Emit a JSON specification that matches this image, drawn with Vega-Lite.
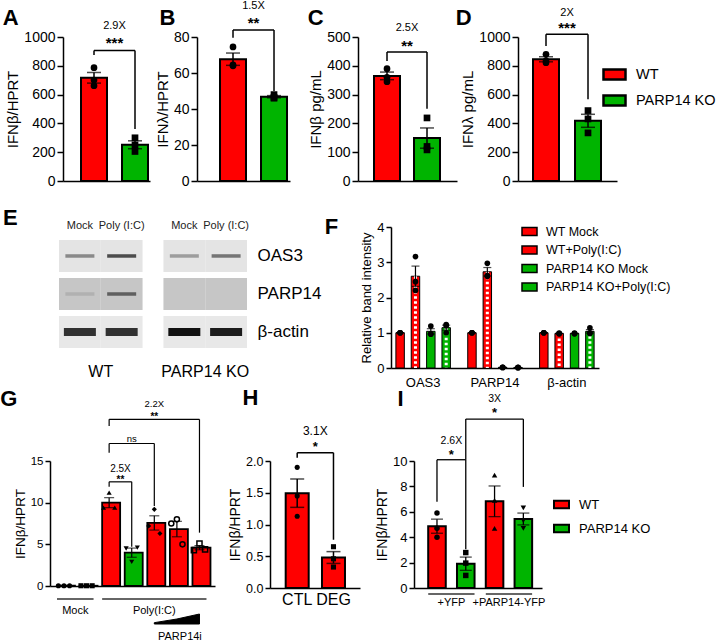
{
"$schema": "https://vega.github.io/schema/vega-lite/v6.json",
"background": "white",
"padding": 0,
"bounds": "flush",
"spacing": 0,
"resolve": {"scale": {"fill": "independent", "shape": "independent", "xOffset": "independent", "opacity": "independent", "color": "independent"}, "legend": {"fill": "independent", "shape": "independent"}},
"config": {
  "view": {"stroke": null},
  "font": "Liberation Sans",
  "axis": {"domainColor": "#000", "domainWidth": 1.5, "tickColor": "#000", "tickWidth": 1.5, "tickSize": 6, "labelColor": "#000", "titleColor": "#000", "labelFont": "Liberation Sans", "titleFont": "Liberation Sans", "titleFontWeight": "normal", "grid": false, "labelFontSize": 14, "titleFontSize": 15, "titlePadding": 3, "labelOverlap": false},
  "legend": {"labelFont": "Liberation Sans", "labelColor": "#000"},
  "title": {"font": "Liberation Sans", "fontSize": 22, "fontWeight": "bold", "color": "#000", "anchor": "start", "frame": "bounds", "offset": 0, "baseline": "bottom"},
  "text": {"font": "Liberation Sans", "color": "#000"}
},
"datasets": {
  "A": [{"g":"WT","v":787},{"g":"WT","v":701},{"g":"WT","v":662},{"g":"PARP14 KO","v":300},{"g":"PARP14 KO","v":250},{"g":"PARP14 KO","v":205}],
  "B": [{"g":"WT","v":74.5},{"g":"WT","v":64.5},{"g":"WT","v":64},{"g":"PARP14 KO","v":48},{"g":"PARP14 KO","v":46},{"g":"PARP14 KO","v":46.5}],
  "C": [{"g":"WT","v":390},{"g":"WT","v":360},{"g":"WT","v":345},{"g":"PARP14 KO","v":219},{"g":"PARP14 KO","v":108},{"g":"PARP14 KO","v":120}],
  "D": [{"g":"WT","v":880},{"g":"WT","v":822},{"g":"WT","v":834},{"g":"PARP14 KO","v":489},{"g":"PARP14 KO","v":431},{"g":"PARP14 KO","v":334}],
  "annA": [{"a":"WT","b":"PARP14 KO","top":907,"la":875,"lb":361,"fold":"2.9X","fy":1076,"stars":"***","sy":955}],
  "annB": [{"a":"WT","b":"PARP14 KO","top":83.9,"la":79.6,"lb":50,"fold":"1.5X","fy":97.2,"stars":"**","sy":87.8}],
  "annC": [{"a":"WT","b":"PARP14 KO","top":448,"la":417,"lb":251,"fold":"2.5X","fy":530,"stars":"**","sy":470}],
  "annD": [{"a":"WT","b":"PARP14 KO","top":1019,"la":938,"lb":568,"fold":"2X","fy":1165,"stars":"***","sy":1060}],
  "E": [
    {"g":"WT","t":"Mock","p":"OAS3","i":0.45},{"g":"WT","t":"Poly (I:C)","p":"OAS3","i":0.75},{"g":"PARP14 KO","t":"Mock","p":"OAS3","i":0.35},{"g":"PARP14 KO","t":"Poly (I:C)","p":"OAS3","i":0.55},
    {"g":"WT","t":"Mock","p":"PARP14","i":0.12},{"g":"WT","t":"Poly (I:C)","p":"PARP14","i":0.6},{"g":"PARP14 KO","t":"Mock","p":"PARP14","i":0},{"g":"PARP14 KO","t":"Poly (I:C)","p":"PARP14","i":0},
    {"g":"WT","t":"Mock","p":"β-actin","i":0.85},{"g":"WT","t":"Poly (I:C)","p":"β-actin","i":0.85},{"g":"PARP14 KO","t":"Mock","p":"β-actin","i":1},{"g":"PARP14 KO","t":"Poly (I:C)","p":"β-actin","i":0.95}
  ],
  "F": [
    {"t":"OAS3","c":"WT Mock","v":1},{"t":"OAS3","c":"WT Mock","v":1},{"t":"OAS3","c":"WT Mock","v":1},
    {"t":"OAS3","c":"WT+Poly(I:C)","v":3.16},{"t":"OAS3","c":"WT+Poly(I:C)","v":2.45},{"t":"OAS3","c":"WT+Poly(I:C)","v":2.2},
    {"t":"OAS3","c":"PARP14 KO Mock","v":1.19},{"t":"OAS3","c":"PARP14 KO Mock","v":0.97},{"t":"OAS3","c":"PARP14 KO Mock","v":0.96},
    {"t":"OAS3","c":"PARP14 KO+Poly(I:C)","v":1.23},{"t":"OAS3","c":"PARP14 KO+Poly(I:C)","v":1.2},{"t":"OAS3","c":"PARP14 KO+Poly(I:C)","v":1.0},
    {"t":"PARP14","c":"WT Mock","v":1},{"t":"PARP14","c":"WT Mock","v":1},{"t":"PARP14","c":"WT Mock","v":1},
    {"t":"PARP14","c":"WT+Poly(I:C)","v":2.97},{"t":"PARP14","c":"WT+Poly(I:C)","v":2.62},{"t":"PARP14","c":"WT+Poly(I:C)","v":2.6},
    {"t":"PARP14","c":"PARP14 KO Mock","v":0.02},{"t":"PARP14","c":"PARP14 KO Mock","v":0.01},{"t":"PARP14","c":"PARP14 KO Mock","v":0.02},
    {"t":"PARP14","c":"PARP14 KO+Poly(I:C)","v":0.01},{"t":"PARP14","c":"PARP14 KO+Poly(I:C)","v":0.02},{"t":"PARP14","c":"PARP14 KO+Poly(I:C)","v":0.01},
    {"t":"β-actin","c":"WT Mock","v":1},{"t":"β-actin","c":"WT Mock","v":1},{"t":"β-actin","c":"WT Mock","v":1},
    {"t":"β-actin","c":"WT+Poly(I:C)","v":0.99},{"t":"β-actin","c":"WT+Poly(I:C)","v":0.97},{"t":"β-actin","c":"WT+Poly(I:C)","v":0.98},
    {"t":"β-actin","c":"PARP14 KO Mock","v":0.98},{"t":"β-actin","c":"PARP14 KO Mock","v":0.97},{"t":"β-actin","c":"PARP14 KO Mock","v":0.99},
    {"t":"β-actin","c":"PARP14 KO+Poly(I:C)","v":1.14},{"t":"β-actin","c":"PARP14 KO+Poly(I:C)","v":1.0},{"t":"β-actin","c":"PARP14 KO+Poly(I:C)","v":0.98}
  ],
  "G": [
    {"cat":"Mock WT","rep":1,"v":0.03},{"cat":"Mock WT","rep":2,"v":0.03},{"cat":"Mock WT","rep":3,"v":0.03},
    {"cat":"Mock KO","rep":1,"v":0.03},{"cat":"Mock KO","rep":2,"v":0.03},{"cat":"Mock KO","rep":3,"v":0.03},
    {"cat":"Poly WT","rep":1,"v":9.4},{"cat":"Poly WT","rep":2,"v":11.2},{"cat":"Poly WT","rep":3,"v":9.4},
    {"cat":"Poly KO","rep":1,"v":4.5},{"cat":"Poly KO","rep":2,"v":2.9},{"cat":"Poly KO","rep":3,"v":4.6},
    {"cat":"PARP14i low","rep":1,"v":7.2},{"cat":"PARP14i low","rep":2,"v":9.2},{"cat":"PARP14i low","rep":3,"v":6.3},
    {"cat":"PARP14i mid","rep":1,"v":7.5},{"cat":"PARP14i mid","rep":2,"v":8.0},{"cat":"PARP14i mid","rep":3,"v":5.0},
    {"cat":"PARP14i high","rep":1,"v":4.3},{"cat":"PARP14i high","rep":2,"v":5.1},{"cat":"PARP14i high","rep":3,"v":4.4}
  ],
  "Gb": [
    {"a":"Poly WT","b":"Poly KO","top":12.5,"la":11.9,"lb":4.7,"fold":"2.5X","fy":14.1,"stars":"**","sy":12.7,"m":"Poly WT"},
    {"a":"Poly WT","b":"PARP14i low","top":17.1,"la":16.0,"lb":9.6,"fold":"ns","fy":17.65,"stars":"","sy":17.65,"m":"Poly KO"},
    {"a":"Poly WT","b":"PARP14i high","top":20.0,"la":19.2,"lb":6.4,"fold":"2.2X","fy":21.9,"stars":"**","sy":20.3,"m":"PARP14i low"}
  ],
  "Gu": [{"a":"Mock WT","b":"Mock KO","lx":"Mock WT","lab":"Mock"},{"a":"Poly WT","b":"PARP14i high","lx":"PARP14i low","lab":"Poly(I:C)"}],
  "Gt": [{"cat":"PARP14i low","lo":-4.56,"hi":-4.4},{"cat":"PARP14i mid","lo":-4.56,"hi":-3.96},{"cat":"PARP14i high","lo":-4.56,"hi":-3.36}],
  "H": [{"cat":"CTL","v":1.9},{"cat":"CTL","v":1.45},{"cat":"CTL","v":1.13},{"cat":"DEG","v":0.65},{"cat":"DEG","v":0.46},{"cat":"DEG","v":0.33}],
  "Hb": [{"a":"CTL","b":"DEG","top":2.13,"la":2.05,"lb":0.76,"fold":"3.1X","fy":2.47,"stars":"*","sy":2.22}],
  "I": [
    {"bar":"WT +YFP","g":"WT","v":5.9},{"bar":"WT +YFP","g":"WT","v":4.7},{"bar":"WT +YFP","g":"WT","v":4.0},
    {"bar":"KO +YFP","g":"PARP14 KO","v":2.79},{"bar":"KO +YFP","g":"PARP14 KO","v":1.96},{"bar":"KO +YFP","g":"PARP14 KO","v":0.99},
    {"bar":"WT +PARP14-YFP","g":"WT","v":8.88},{"bar":"WT +PARP14-YFP","g":"WT","v":6.9},{"bar":"WT +PARP14-YFP","g":"WT","v":4.7},
    {"bar":"KO +PARP14-YFP","g":"PARP14 KO","v":6.3},{"bar":"KO +PARP14-YFP","g":"PARP14 KO","v":5.3},{"bar":"KO +PARP14-YFP","g":"PARP14 KO","v":4.7}
  ],
  "Ib": [
    {"a":"WT +YFP","b":"KO +YFP","top":10.1,"la":6.8,"lb":3.05,"fold":"2.6X","fy":11.6,"stars":"*","sy":10.5,"m":"WT +YFP"},
    {"a":"KO +YFP","b":"KO +PARP14-YFP","top":13.3,"la":10.1,"lb":7.96,"fold":"3X","fy":14.9,"stars":"*","sy":13.8,"m":"WT +PARP14-YFP"}
  ],
  "Iu": [{"a":"WT +YFP","b":"KO +YFP","lab":"+YFP"},{"a":"WT +PARP14-YFP","b":"KO +PARP14-YFP","lab":"+PARP14-YFP"}]
},
"vconcat": [
 {
  "hconcat": [
  {"width": 53, "height": 144, "data": {"values": []}, "mark": "point"},
  {
    "width": 87, "height": 144,
    "title": {"text": "A", "dx": -3, "dy": 14},
    "layer": [
      {"data": {"name": "A"}, "mark": {"type": "bar", "stroke": "#000", "strokeWidth": 2},
       "encoding": {
         "x": {"field": "g", "type": "nominal", "title": null, "scale": {"domain": ["WT","PARP14 KO"], "paddingInner": 0.366, "paddingOuter": 0.244, "align": 0.9}, "axis": {"labels": false, "ticks": false}},
         "y": {"aggregate": "mean", "field": "v", "type": "quantitative", "title": "IFNβ/HPRT", "scale": {"domain": [0, 1000], "nice": false}, "axis": {"values": [0,200,400,600,800,1000], "tickCount": 20, "format": "d"}},
         "fill": {"field": "g", "type": "nominal", "scale": {"domain": ["WT","PARP14 KO"], "range": ["#ff0000","#00b400"]}, "legend": null}}},
      {"data": {"name": "A"}, "mark": {"type": "errorbar", "extent": "stderr", "color": "#000", "rule": {"strokeWidth": 1.5}, "ticks": {"size": 14, "thickness": 1.5}},
       "encoding": {"x": {"field": "g", "type": "nominal", "title": null}, "y": {"field": "v", "type": "quantitative", "title": "IFNβ/HPRT"}}},
      {"data": {"name": "A"}, "mark": {"type": "point", "filled": true, "color": "#000", "opacity": 1, "size": 45},
       "encoding": {"x": {"field": "g", "type": "nominal", "title": null}, "y": {"field": "v", "type": "quantitative", "title": "IFNβ/HPRT"}, "shape": {"condition": {"test": "datum.g == 'WT'", "value": "circle"}, "value": "square"}}},
      {"data": {"name": "annA"}, "mark": {"type": "rule", "color": "#000", "strokeWidth": 1.5},
       "encoding": {"x": {"field": "a", "type": "nominal", "title": null}, "x2": {"field": "b"}, "y": {"field": "top", "type": "quantitative", "title": "IFNβ/HPRT"}}},
      {"data": {"name": "annA"}, "mark": {"type": "rule", "color": "#000", "strokeWidth": 1.5},
       "encoding": {"x": {"field": "a", "type": "nominal", "title": null}, "y": {"field": "top", "type": "quantitative", "title": "IFNβ/HPRT"}, "y2": {"field": "la"}}},
      {"data": {"name": "annA"}, "mark": {"type": "rule", "color": "#000", "strokeWidth": 1.5},
       "encoding": {"x": {"field": "b", "type": "nominal", "title": null}, "y": {"field": "top", "type": "quantitative", "title": "IFNβ/HPRT"}, "y2": {"field": "lb"}}},
      {"data": {"name": "annA"}, "mark": {"type": "text", "fontSize": 11, "dx": 20.5, "baseline": "middle"},
       "encoding": {"x": {"field": "a", "type": "nominal", "title": null}, "y": {"field": "fy", "type": "quantitative", "title": "IFNβ/HPRT"}, "text": {"field": "fold"}}},
      {"data": {"name": "annA"}, "mark": {"type": "text", "fontSize": 15, "fontWeight": "bold", "dx": 20.5, "baseline": "middle"},
       "encoding": {"x": {"field": "a", "type": "nominal", "title": null}, "y": {"field": "sy", "type": "quantitative", "title": "IFNβ/HPRT"}, "text": {"field": "stars"}}}
    ]
  },
  {"width": 27, "height": 144, "data": {"values": []}, "mark": "point"},
  {
    "width": 93, "height": 144,
    "title": {"text": "B", "dx": 4, "dy": 33.5},
    "layer": [
      {"data": {"name": "B"}, "mark": {"type": "bar", "stroke": "#000", "strokeWidth": 2},
       "encoding": {
         "x": {"field": "g", "type": "nominal", "title": null, "scale": {"domain": ["WT","PARP14 KO"], "paddingInner": 0.366, "paddingOuter": 0.317, "align": 0.885}, "axis": {"labels": false, "ticks": false}},
         "y": {"aggregate": "mean", "field": "v", "type": "quantitative", "title": "IFNλ/HPRT", "scale": {"domain": [0, 80], "nice": false}, "axis": {"values": [0,20,40,60,80], "tickCount": 20, "format": "d"}},
         "fill": {"field": "g", "type": "nominal", "scale": {"domain": ["WT","PARP14 KO"], "range": ["#ff0000","#00b400"]}, "legend": null}}},
      {"data": {"name": "B"}, "mark": {"type": "errorbar", "extent": "stderr", "color": "#000", "rule": {"strokeWidth": 1.5}, "ticks": {"size": 14, "thickness": 1.5}},
       "encoding": {"x": {"field": "g", "type": "nominal", "title": null}, "y": {"field": "v", "type": "quantitative", "title": "IFNλ/HPRT"}}},
      {"data": {"name": "B"}, "mark": {"type": "point", "filled": true, "color": "#000", "opacity": 1, "size": 45},
       "encoding": {"x": {"field": "g", "type": "nominal", "title": null}, "y": {"field": "v", "type": "quantitative", "title": "IFNλ/HPRT"}, "shape": {"condition": {"test": "datum.g == 'WT'", "value": "circle"}, "value": "square"}}},
      {"data": {"name": "annB"}, "mark": {"type": "rule", "color": "#000", "strokeWidth": 1.5},
       "encoding": {"x": {"field": "a", "type": "nominal", "title": null}, "x2": {"field": "b"}, "y": {"field": "top", "type": "quantitative", "title": "IFNλ/HPRT"}}},
      {"data": {"name": "annB"}, "mark": {"type": "rule", "color": "#000", "strokeWidth": 1.5},
       "encoding": {"x": {"field": "a", "type": "nominal", "title": null}, "y": {"field": "top", "type": "quantitative", "title": "IFNλ/HPRT"}, "y2": {"field": "la"}}},
      {"data": {"name": "annB"}, "mark": {"type": "rule", "color": "#000", "strokeWidth": 1.5},
       "encoding": {"x": {"field": "b", "type": "nominal", "title": null}, "y": {"field": "top", "type": "quantitative", "title": "IFNλ/HPRT"}, "y2": {"field": "lb"}}},
      {"data": {"name": "annB"}, "mark": {"type": "text", "fontSize": 11, "dx": 20.5, "baseline": "middle"},
       "encoding": {"x": {"field": "a", "type": "nominal", "title": null}, "y": {"field": "fy", "type": "quantitative", "title": "IFNλ/HPRT"}, "text": {"field": "fold"}}},
      {"data": {"name": "annB"}, "mark": {"type": "text", "fontSize": 15, "fontWeight": "bold", "dx": 20.5, "baseline": "middle"},
       "encoding": {"x": {"field": "a", "type": "nominal", "title": null}, "y": {"field": "sy", "type": "quantitative", "title": "IFNλ/HPRT"}, "text": {"field": "stars"}}}
    ]
  },
  {"width": 48, "height": 144, "data": {"values": []}, "mark": "point"},
  {
    "width": 99, "height": 144,
    "title": {"text": "C", "dx": -1, "dy": 11.5},
    "layer": [
      {"data": {"name": "C"}, "mark": {"type": "bar", "stroke": "#000", "strokeWidth": 2},
       "encoding": {
         "x": {"field": "g", "type": "nominal", "title": null, "scale": {"domain": ["WT","PARP14 KO"], "paddingInner": 0.35, "paddingOuter": 0.4125, "align": 0.485}, "axis": {"labels": false, "ticks": false}},
         "y": {"aggregate": "mean", "field": "v", "type": "quantitative", "title": "IFNβ pg/mL", "scale": {"domain": [0, 500], "nice": false}, "axis": {"values": [0,100,200,300,400,500], "tickCount": 20, "format": "d"}},
         "fill": {"field": "g", "type": "nominal", "scale": {"domain": ["WT","PARP14 KO"], "range": ["#ff0000","#00b400"]}, "legend": null}}},
      {"data": {"name": "C"}, "mark": {"type": "errorbar", "extent": "stderr", "color": "#000", "rule": {"strokeWidth": 1.5}, "ticks": {"size": 14, "thickness": 1.5}},
       "encoding": {"x": {"field": "g", "type": "nominal", "title": null}, "y": {"field": "v", "type": "quantitative", "title": "IFNβ pg/mL"}}},
      {"data": {"name": "C"}, "mark": {"type": "point", "filled": true, "color": "#000", "opacity": 1, "size": 45},
       "encoding": {"x": {"field": "g", "type": "nominal", "title": null}, "y": {"field": "v", "type": "quantitative", "title": "IFNβ pg/mL"}, "shape": {"condition": {"test": "datum.g == 'WT'", "value": "circle"}, "value": "square"}}},
      {"data": {"name": "annC"}, "mark": {"type": "rule", "color": "#000", "strokeWidth": 1.5},
       "encoding": {"x": {"field": "a", "type": "nominal", "title": null}, "x2": {"field": "b"}, "y": {"field": "top", "type": "quantitative", "title": "IFNβ pg/mL"}}},
      {"data": {"name": "annC"}, "mark": {"type": "rule", "color": "#000", "strokeWidth": 1.5},
       "encoding": {"x": {"field": "a", "type": "nominal", "title": null}, "y": {"field": "top", "type": "quantitative", "title": "IFNβ pg/mL"}, "y2": {"field": "la"}}},
      {"data": {"name": "annC"}, "mark": {"type": "rule", "color": "#000", "strokeWidth": 1.5},
       "encoding": {"x": {"field": "b", "type": "nominal", "title": null}, "y": {"field": "top", "type": "quantitative", "title": "IFNβ pg/mL"}, "y2": {"field": "lb"}}},
      {"data": {"name": "annC"}, "mark": {"type": "text", "fontSize": 11, "dx": 20, "baseline": "middle"},
       "encoding": {"x": {"field": "a", "type": "nominal", "title": null}, "y": {"field": "fy", "type": "quantitative", "title": "IFNβ pg/mL"}, "text": {"field": "fold"}}},
      {"data": {"name": "annC"}, "mark": {"type": "text", "fontSize": 15, "fontWeight": "bold", "dx": 20, "baseline": "middle"},
       "encoding": {"x": {"field": "a", "type": "nominal", "title": null}, "y": {"field": "sy", "type": "quantitative", "title": "IFNβ pg/mL"}, "text": {"field": "stars"}}}
    ]
  },
  {"width": 41, "height": 144, "data": {"values": []}, "mark": "point"},
  {
    "width": 99, "height": 144,
    "title": {"text": "D", "dx": -5, "dy": 26.5},
    "layer": [
      {"data": {"name": "D"}, "mark": {"type": "bar", "stroke": "#000", "strokeWidth": 2},
       "encoding": {
         "x": {"field": "g", "type": "nominal", "title": null, "scale": {"domain": ["WT","PARP14 KO"], "paddingInner": 0.381, "paddingOuter": 0.369, "align": 0.484}, "axis": {"labels": false, "ticks": false}},
         "y": {"aggregate": "mean", "field": "v", "type": "quantitative", "title": "IFNλ pg/mL", "scale": {"domain": [0, 1000], "nice": false}, "axis": {"values": [0,200,400,600,800,1000], "tickCount": 20, "format": "d"}},
         "fill": {"field": "g", "type": "nominal", "scale": {"domain": ["WT","PARP14 KO"], "range": ["#ff0000","#00b400"]},
                  "legend": {"orient": "none", "legendX": 84, "legendY": 25, "title": null, "symbolType": "M-1,-0.45H1V0.45H-1Z", "symbolSize": 484, "symbolStrokeColor": "#000", "symbolStrokeWidth": 2.5, "labelFontSize": 14.5, "labelOffset": 9, "rowPadding": 3}}}},
      {"data": {"name": "D"}, "mark": {"type": "errorbar", "extent": "stderr", "color": "#000", "rule": {"strokeWidth": 1.5}, "ticks": {"size": 14, "thickness": 1.5}},
       "encoding": {"x": {"field": "g", "type": "nominal", "title": null}, "y": {"field": "v", "type": "quantitative", "title": "IFNλ pg/mL"}}},
      {"data": {"name": "D"}, "mark": {"type": "point", "filled": true, "color": "#000", "opacity": 1, "size": 45},
       "encoding": {"x": {"field": "g", "type": "nominal", "title": null}, "y": {"field": "v", "type": "quantitative", "title": "IFNλ pg/mL"}, "shape": {"condition": {"test": "datum.g == 'WT'", "value": "circle"}, "value": "square"}}},
      {"data": {"name": "annD"}, "mark": {"type": "rule", "color": "#000", "strokeWidth": 1.5},
       "encoding": {"x": {"field": "a", "type": "nominal", "title": null}, "x2": {"field": "b"}, "y": {"field": "top", "type": "quantitative", "title": "IFNλ pg/mL"}}},
      {"data": {"name": "annD"}, "mark": {"type": "rule", "color": "#000", "strokeWidth": 1.5},
       "encoding": {"x": {"field": "a", "type": "nominal", "title": null}, "y": {"field": "top", "type": "quantitative", "title": "IFNλ pg/mL"}, "y2": {"field": "la"}}},
      {"data": {"name": "annD"}, "mark": {"type": "rule", "color": "#000", "strokeWidth": 1.5},
       "encoding": {"x": {"field": "b", "type": "nominal", "title": null}, "y": {"field": "top", "type": "quantitative", "title": "IFNλ pg/mL"}, "y2": {"field": "lb"}}},
      {"data": {"name": "annD"}, "mark": {"type": "text", "fontSize": 11, "dx": 21, "baseline": "middle"},
       "encoding": {"x": {"field": "a", "type": "nominal", "title": null}, "y": {"field": "fy", "type": "quantitative", "title": "IFNλ pg/mL"}, "text": {"field": "fold"}}},
      {"data": {"name": "annD"}, "mark": {"type": "text", "fontSize": 15, "fontWeight": "bold", "dx": 21, "baseline": "middle"},
       "encoding": {"x": {"field": "a", "type": "nominal", "title": null}, "y": {"field": "sy", "type": "quantitative", "title": "IFNλ pg/mL"}, "text": {"field": "stars"}}}
    ]
  }
  ],
  "spacing": 10,
  "bounds": "flush",
  "resolve": {"scale": {"fill": "independent", "shape": "independent", "xOffset": "independent", "opacity": "independent", "color": "independent"}, "legend": {"fill": "independent", "shape": "independent"}}
 },
 {"width": 1, "height": 190, "data": {"values": []}, "mark": "point"},
 {
  "hconcat": [
  {"width": 19, "height": 141, "data": {"values": []}, "mark": "point"},
  {
    "width": 188, "height": 141,
    "title": {"text": "E", "dx": -56, "dy": 14},
    "data": {"name": "E"},
    "encoding": {
      "x": {"field": "g", "type": "nominal", "title": null, "scale": {"domain": ["WT","PARP14 KO"], "paddingInner": 0.2, "paddingOuter": 0}, "axis": {"orient": "bottom", "domain": false, "ticks": false, "labelAngle": 0, "labelFontSize": 16, "offset": -8, "labelPadding": 3}},
      "xOffset": {"field": "t", "type": "nominal", "scale": {"domain": ["Mock","Poly (I:C)"], "paddingInner": 0, "paddingOuter": 0}},
      "y": {"field": "p", "type": "nominal", "title": null, "scale": {"domain": ["OAS3","PARP14","β-actin"], "paddingInner": 0.16, "paddingOuter": 0.434, "align": 0.394}, "axis": {"orient": "right", "domain": false, "ticks": false, "labelFontSize": 17, "labelPadding": 10}}
    },
    "layer": [
      {"mark": {"type": "rect"}, "encoding": {"fill": {"field": "p", "type": "nominal", "scale": {"domain": ["OAS3","PARP14","β-actin"], "range": ["#e4e4e4","#c6c6c6","#e8e8e8"]}, "legend": null}}},
      {"transform": [{"filter": "datum.p != 'β-actin'"}], "mark": {"type": "tick", "orient": "horizontal", "size": 29, "thickness": 3.5, "color": "#1a1a1a"},
       "encoding": {"opacity": {"field": "i", "type": "quantitative", "scale": {"domain": [0, 1], "range": [0, 1]}, "legend": null}}},
      {"transform": [{"filter": "datum.p == 'β-actin'"}], "mark": {"type": "tick", "orient": "horizontal", "size": 32, "thickness": 8, "color": "#111"},
       "encoding": {"opacity": {"field": "i", "type": "quantitative", "scale": {"domain": [0, 1], "range": [0, 1]}, "legend": null}}},
      {"transform": [{"filter": "datum.p == 'OAS3'"}], "mark": {"type": "text", "fontSize": 11, "dy": -30, "color": "#222"},
       "encoding": {"text": {"field": "t"}}}
    ]
  },
  {"width": 64, "height": 141, "data": {"values": []}, "mark": "point"},
  {
    "width": 208, "height": 141,
    "title": {"text": "F", "dx": -36, "dy": 22},
    "data": {"name": "F"},
    "encoding": {
      "x": {"field": "t", "type": "nominal", "title": null, "scale": {"domain": ["OAS3","PARP14","β-actin"], "paddingInner": 0.145, "paddingOuter": 0.02}, "axis": {"ticks": false, "labelAngle": 0, "labelFontSize": 13, "labelPadding": 8}},
      "xOffset": {"field": "c", "type": "nominal", "scale": {"domain": ["WT Mock","WT+Poly(I:C)","PARP14 KO Mock","PARP14 KO+Poly(I:C)"], "paddingInner": 0.45, "paddingOuter": 0.225}}
    },
    "layer": [
      {"mark": {"type": "bar", "stroke": "#000", "strokeWidth": 1},
       "encoding": {
         "y": {"aggregate": "mean", "field": "v", "type": "quantitative", "title": "Relative band intensity", "scale": {"domain": [0, 4], "nice": false}, "axis": {"values": [0,1,2,3,4], "tickCount": 20, "format": "d", "labelFontSize": 13, "titleFontSize": 13, "tickSize": 5}},
         "fill": {"field": "c", "type": "nominal", "scale": {"domain": ["WT Mock","WT+Poly(I:C)","PARP14 KO Mock","PARP14 KO+Poly(I:C)"], "range": ["#ff0000","#ff0000","#00b400","#00b400"]},
                  "legend": {"orient": "none", "legendX": 130, "legendY": -4, "title": null, "symbolType": "M-1,-0.53H1V0.53H-1Z", "symbolSize": 225, "symbolStrokeColor": "#000", "symbolStrokeWidth": 1.5, "labelFontSize": 12.5, "labelOffset": 8, "rowPadding": 2.5}}}},
      {"transform": [{"filter": "indexof(datum.c, 'Poly') >= 0"}], "mark": {"type": "rule", "color": "#ffffff", "strokeWidth": 3, "strokeDash": [2.5, 2.5]},
       "encoding": {"y": {"aggregate": "mean", "field": "v", "type": "quantitative", "title": "Relative band intensity"}, "y2": {"datum": 0}}},
      {"mark": {"type": "errorbar", "extent": "stderr", "color": "#000", "rule": {"strokeWidth": 1.2}, "ticks": {"size": 8, "thickness": 1.2}},
       "encoding": {"y": {"field": "v", "type": "quantitative", "title": "Relative band intensity"}}},
      {"mark": {"type": "point", "filled": true, "color": "#000", "opacity": 1, "size": 32},
       "encoding": {"y": {"field": "v", "type": "quantitative", "title": "Relative band intensity"}}}
    ]
  }
  ],
  "spacing": 40,
  "bounds": "flush",
  "resolve": {"scale": {"fill": "independent", "shape": "independent", "xOffset": "independent", "opacity": "independent", "color": "independent"}, "legend": {"fill": "independent", "shape": "independent"}}
 },
 {"width": 1, "height": 234, "data": {"values": []}, "mark": "point"},
 {
  "hconcat": [
  {"width": 40, "height": 125, "data": {"values": []}, "mark": "point"},
  {
    "width": 165, "height": 125,
    "title": {"text": "G", "dx": -13, "dy": 16.5},
    "layer": [
      {"data": {"name": "G"}, "mark": {"type": "bar", "stroke": "#000", "strokeWidth": 1.8},
       "encoding": {
         "x": {"field": "cat", "type": "nominal", "title": null, "scale": {"domain": ["Mock WT","Mock KO","Poly WT","Poly KO","PARP14i low","PARP14i mid","PARP14i high"], "paddingInner": 0.38, "paddingOuter": 0.343, "align": 0.45}, "axis": {"labels": false, "ticks": false}},
         "y": {"aggregate": "mean", "field": "v", "type": "quantitative", "title": "IFNβ/HPRT", "scale": {"domain": [0, 15], "nice": false}, "axis": {"values": [0,5,10,15], "tickCount": 20, "format": "d", "labelFontSize": 11.5, "titleFontSize": 13.5, "tickSize": 5}},
         "fill": {"field": "cat", "type": "nominal", "scale": {"domain": ["Mock WT","Mock KO","Poly WT","Poly KO","PARP14i low","PARP14i mid","PARP14i high"], "range": ["#ff0000","#00b400","#ff0000","#00b400","#ff0000","#ff0000","#ff0000"]}, "legend": null}}},
      {"data": {"name": "G"}, "mark": {"type": "errorbar", "extent": "stderr", "color": "#000", "rule": {"strokeWidth": 1.2}, "ticks": {"size": 10, "thickness": 1.2}},
       "encoding": {"x": {"field": "cat", "type": "nominal", "title": null}, "y": {"field": "v", "type": "quantitative", "title": "IFNβ/HPRT"}}},
      {"data": {"name": "G"}, "transform": [{"filter": "datum.cat != 'PARP14i mid' && datum.cat != 'PARP14i high'"}],
       "mark": {"type": "point", "filled": true, "color": "#000", "opacity": 1, "size": 26},
       "encoding": {"x": {"field": "cat", "type": "nominal", "title": null}, "xOffset": {"field": "rep", "type": "nominal", "scale": {"type": "point", "padding": 0.25}}, "y": {"field": "v", "type": "quantitative", "title": "IFNβ/HPRT"},
         "shape": {"field": "cat", "type": "nominal", "scale": {"domain": ["Mock WT","Mock KO","Poly WT","Poly KO","PARP14i low","PARP14i mid","PARP14i high"], "range": ["circle","square","triangle-up","triangle-down","diamond","circle","square"]}, "legend": null}}},
      {"data": {"name": "G"}, "transform": [{"filter": "datum.cat == 'PARP14i mid' || datum.cat == 'PARP14i high'"}],
       "mark": {"type": "point", "filled": false, "color": "#000", "opacity": 1, "size": 26, "strokeWidth": 1.5},
       "encoding": {"x": {"field": "cat", "type": "nominal", "title": null}, "xOffset": {"field": "rep", "type": "nominal", "scale": {"type": "point", "padding": 0.25}}, "y": {"field": "v", "type": "quantitative", "title": "IFNβ/HPRT"},
         "shape": {"field": "cat", "type": "nominal", "legend": null}}},
      {"data": {"name": "Gb"}, "mark": {"type": "rule", "color": "#000", "strokeWidth": 1.2},
       "encoding": {"x": {"field": "a", "type": "nominal", "title": null}, "x2": {"field": "b"}, "y": {"field": "top", "type": "quantitative", "title": "IFNβ/HPRT"}}},
      {"data": {"name": "Gb"}, "mark": {"type": "rule", "color": "#000", "strokeWidth": 1.2},
       "encoding": {"x": {"field": "a", "type": "nominal", "title": null}, "y": {"field": "top", "type": "quantitative", "title": "IFNβ/HPRT"}, "y2": {"field": "la"}}},
      {"data": {"name": "Gb"}, "mark": {"type": "rule", "color": "#000", "strokeWidth": 1.2},
       "encoding": {"x": {"field": "b", "type": "nominal", "title": null}, "y": {"field": "top", "type": "quantitative", "title": "IFNβ/HPRT"}, "y2": {"field": "lb"}}},
      {"data": {"name": "Gb"}, "transform": [{"filter": "datum.fold == '2.5X'"}], "mark": {"type": "text", "fontSize": 10, "dx": 11.3, "baseline": "middle"},
       "encoding": {"x": {"field": "m", "type": "nominal", "title": null}, "y": {"field": "fy", "type": "quantitative", "title": "IFNβ/HPRT"}, "text": {"field": "fold"}}},
      {"data": {"name": "Gb"}, "transform": [{"filter": "datum.fold == '2.5X'"}], "mark": {"type": "text", "fontSize": 10, "fontWeight": "bold", "dx": 11.3, "baseline": "middle"},
       "encoding": {"x": {"field": "m", "type": "nominal", "title": null}, "y": {"field": "sy", "type": "quantitative", "title": "IFNβ/HPRT"}, "text": {"field": "stars"}}},
      {"data": {"name": "Gb"}, "transform": [{"filter": "datum.fold != '2.5X'"}], "mark": {"type": "text", "fontSize": 9.5, "baseline": "middle"},
       "encoding": {"x": {"field": "m", "type": "nominal", "title": null}, "y": {"field": "fy", "type": "quantitative", "title": "IFNβ/HPRT"}, "text": {"field": "fold"}}},
      {"data": {"name": "Gb"}, "transform": [{"filter": "datum.fold != '2.5X' && datum.stars != ''"}], "mark": {"type": "text", "fontSize": 10, "fontWeight": "bold", "baseline": "middle"},
       "encoding": {"x": {"field": "m", "type": "nominal", "title": null}, "y": {"field": "sy", "type": "quantitative", "title": "IFNβ/HPRT"}, "text": {"field": "stars"}}},
      {"data": {"name": "Gu"}, "mark": {"type": "rule", "color": "#333", "strokeWidth": 1.5, "xOffset": -7, "x2Offset": 7},
       "encoding": {"x": {"field": "a", "type": "nominal", "title": null}, "x2": {"field": "b"}, "y": {"datum": -1.56, "type": "quantitative"}}},
      {"data": {"name": "Gu"}, "transform": [{"filter": "datum.lab == 'Mock'"}], "mark": {"type": "text", "fontSize": 11, "dx": 11.3, "baseline": "middle"},
       "encoding": {"x": {"field": "lx", "type": "nominal", "title": null}, "y": {"datum": -3.0, "type": "quantitative"}, "text": {"field": "lab"}}},
      {"data": {"name": "Gu"}, "transform": [{"filter": "datum.lab != 'Mock'"}], "mark": {"type": "text", "fontSize": 11, "baseline": "middle"},
       "encoding": {"x": {"field": "lx", "type": "nominal", "title": null}, "y": {"datum": -3.0, "type": "quantitative"}, "text": {"field": "lab"}}},
      {"data": {"name": "Gt"}, "mark": {"type": "area", "color": "#000", "stroke": "#000", "strokeWidth": 1, "opacity": 1},
       "encoding": {"x": {"field": "cat", "type": "nominal", "title": null}, "y": {"field": "lo", "type": "quantitative", "title": "IFNβ/HPRT"}, "y2": {"field": "hi"}}},
      {"data": {"values": [{"lab": "PARP14i"}]}, "mark": {"type": "text", "fontSize": 11, "dx": 3, "baseline": "middle"},
       "encoding": {"x": {"datum": "PARP14i mid", "type": "nominal"}, "y": {"datum": -6.1, "type": "quantitative"}, "text": {"field": "lab"}}}
    ]
  },
  {"width": 35, "height": 125, "data": {"values": []}, "mark": "point"},
  {
    "width": 90, "height": 127,
    "title": {"text": "H", "dx": 14, "dy": -11},
    "layer": [
      {"data": {"name": "H"}, "mark": {"type": "bar", "stroke": "#000", "strokeWidth": 2, "fill": "#ff0000"},
       "encoding": {
         "x": {"field": "cat", "type": "nominal", "title": null, "scale": {"domain": ["CTL","DEG"], "paddingInner": 0.366, "paddingOuter": 0.423, "align": 0.511}, "axis": {"ticks": false, "labelAngle": 0, "labelFontSize": 16, "labelPadding": 3}},
         "y": {"aggregate": "mean", "field": "v", "type": "quantitative", "title": "IFNβ/HPRT", "scale": {"domain": [0, 2], "nice": false}, "axis": {"values": [0,0.5,1,1.5,2], "tickCount": 20, "format": ".1f", "labelFontSize": 12.5, "titleFontSize": 14, "tickSize": 5}}}},
      {"data": {"name": "H"}, "mark": {"type": "errorbar", "extent": "stderr", "color": "#000", "rule": {"strokeWidth": 1.5}, "ticks": {"size": 14, "thickness": 1.5}},
       "encoding": {"x": {"field": "cat", "type": "nominal", "title": null}, "y": {"field": "v", "type": "quantitative", "title": "IFNβ/HPRT"}}},
      {"data": {"name": "H"}, "mark": {"type": "point", "filled": true, "color": "#000", "opacity": 1, "size": 26},
       "encoding": {"x": {"field": "cat", "type": "nominal", "title": null}, "y": {"field": "v", "type": "quantitative", "title": "IFNβ/HPRT"}, "shape": {"condition": {"test": "datum.cat == 'CTL'", "value": "circle"}, "value": "square"}}},
      {"data": {"name": "Hb"}, "mark": {"type": "rule", "color": "#000", "strokeWidth": 1.5},
       "encoding": {"x": {"field": "a", "type": "nominal", "title": null}, "x2": {"field": "b"}, "y": {"field": "top", "type": "quantitative", "title": "IFNβ/HPRT"}}},
      {"data": {"name": "Hb"}, "mark": {"type": "rule", "color": "#000", "strokeWidth": 1.5},
       "encoding": {"x": {"field": "a", "type": "nominal", "title": null}, "y": {"field": "top", "type": "quantitative", "title": "IFNβ/HPRT"}, "y2": {"field": "la"}}},
      {"data": {"name": "Hb"}, "mark": {"type": "rule", "color": "#000", "strokeWidth": 1.5},
       "encoding": {"x": {"field": "b", "type": "nominal", "title": null}, "y": {"field": "top", "type": "quantitative", "title": "IFNβ/HPRT"}, "y2": {"field": "lb"}}},
      {"data": {"name": "Hb"}, "mark": {"type": "text", "fontSize": 12, "dx": 18.1, "baseline": "middle"},
       "encoding": {"x": {"field": "a", "type": "nominal", "title": null}, "y": {"field": "fy", "type": "quantitative", "title": "IFNβ/HPRT"}, "text": {"field": "fold"}}},
      {"data": {"name": "Hb"}, "mark": {"type": "text", "fontSize": 13, "fontWeight": "bold", "dx": 18.1, "baseline": "middle"},
       "encoding": {"x": {"field": "a", "type": "nominal", "title": null}, "y": {"field": "sy", "type": "quantitative", "title": "IFNβ/HPRT"}, "text": {"field": "stars"}}}
    ]
  },
  {"width": 34, "height": 125, "data": {"values": []}, "mark": "point"},
  {
    "width": 128, "height": 127,
    "title": {"text": "I", "dx": 22, "dy": 21},
    "layer": [
      {"data": {"name": "I"}, "mark": {"type": "bar", "stroke": "#000", "strokeWidth": 2},
       "encoding": {
         "x": {"field": "bar", "type": "nominal", "title": null, "scale": {"domain": ["WT +YFP","KO +YFP","WT +PARP14-YFP","KO +PARP14-YFP"], "paddingInner": 0.39, "paddingOuter": 0.418, "align": 0.59}, "axis": {"labels": false, "ticks": false}},
         "y": {"aggregate": "mean", "field": "v", "type": "quantitative", "title": "IFNβ/HPRT", "scale": {"domain": [0, 10], "nice": false}, "axis": {"values": [0,2,4,6,8,10], "tickCount": 20, "format": "d", "labelFontSize": 13, "titleFontSize": 14, "tickSize": 5}},
         "fill": {"field": "g", "type": "nominal", "scale": {"domain": ["WT","PARP14 KO"], "range": ["#ff0000","#00b400"]},
                  "legend": {"orient": "none", "legendX": 139, "legendY": 35, "title": null, "symbolType": "M-1,-0.5H1V0.5H-1Z", "symbolSize": 225, "symbolStrokeColor": "#000", "symbolStrokeWidth": 2, "labelFontSize": 13, "labelOffset": 9, "rowPadding": 7}}}},
      {"data": {"name": "I"}, "mark": {"type": "errorbar", "extent": "stderr", "color": "#000", "rule": {"strokeWidth": 1.3}, "ticks": {"size": 12, "thickness": 1.3}},
       "encoding": {"x": {"field": "bar", "type": "nominal", "title": null}, "y": {"field": "v", "type": "quantitative", "title": "IFNβ/HPRT"}}},
      {"data": {"name": "I"}, "mark": {"type": "point", "filled": true, "color": "#000", "opacity": 1, "size": 30},
       "encoding": {"x": {"field": "bar", "type": "nominal", "title": null}, "y": {"field": "v", "type": "quantitative", "title": "IFNβ/HPRT"}, "shape": {"field": "bar", "type": "nominal", "scale": {"domain": ["WT +YFP","KO +YFP","WT +PARP14-YFP","KO +PARP14-YFP"], "range": ["circle","square","triangle-up","triangle-down"]}, "legend": null}}},
      {"data": {"name": "Ib"}, "mark": {"type": "rule", "color": "#000", "strokeWidth": 1.3},
       "encoding": {"x": {"field": "a", "type": "nominal", "title": null}, "x2": {"field": "b"}, "y": {"field": "top", "type": "quantitative", "title": "IFNβ/HPRT"}}},
      {"data": {"name": "Ib"}, "mark": {"type": "rule", "color": "#000", "strokeWidth": 1.3},
       "encoding": {"x": {"field": "a", "type": "nominal", "title": null}, "y": {"field": "top", "type": "quantitative", "title": "IFNβ/HPRT"}, "y2": {"field": "la"}}},
      {"data": {"name": "Ib"}, "mark": {"type": "rule", "color": "#000", "strokeWidth": 1.3},
       "encoding": {"x": {"field": "b", "type": "nominal", "title": null}, "y": {"field": "top", "type": "quantitative", "title": "IFNβ/HPRT"}, "y2": {"field": "lb"}}},
      {"data": {"name": "Ib"}, "transform": [{"filter": "datum.fold == '2.6X'"}], "mark": {"type": "text", "fontSize": 10.5, "dx": 14.4, "baseline": "middle"},
       "encoding": {"x": {"field": "m", "type": "nominal", "title": null}, "y": {"field": "fy", "type": "quantitative", "title": "IFNβ/HPRT"}, "text": {"field": "fold"}}},
      {"data": {"name": "Ib"}, "transform": [{"filter": "datum.fold == '2.6X'"}], "mark": {"type": "text", "fontSize": 13, "fontWeight": "bold", "dx": 14.4, "baseline": "middle"},
       "encoding": {"x": {"field": "m", "type": "nominal", "title": null}, "y": {"field": "sy", "type": "quantitative", "title": "IFNβ/HPRT"}, "text": {"field": "stars"}}},
      {"data": {"name": "Ib"}, "transform": [{"filter": "datum.fold != '2.6X'"}], "mark": {"type": "text", "fontSize": 10.5, "baseline": "middle"},
       "encoding": {"x": {"field": "m", "type": "nominal", "title": null}, "y": {"field": "fy", "type": "quantitative", "title": "IFNβ/HPRT"}, "text": {"field": "fold"}}},
      {"data": {"name": "Ib"}, "transform": [{"filter": "datum.fold != '2.6X'"}], "mark": {"type": "text", "fontSize": 13, "fontWeight": "bold", "baseline": "middle"},
       "encoding": {"x": {"field": "m", "type": "nominal", "title": null}, "y": {"field": "sy", "type": "quantitative", "title": "IFNβ/HPRT"}, "text": {"field": "stars"}}},
      {"data": {"name": "Iu"}, "mark": {"type": "rule", "color": "#333", "strokeWidth": 1.5, "xOffset": -8.75, "x2Offset": 8.75},
       "encoding": {"x": {"field": "a", "type": "nominal", "title": null}, "x2": {"field": "b"}, "y": {"datum": -0.47, "type": "quantitative"}}},
      {"data": {"name": "Iu"}, "mark": {"type": "text", "fontSize": 11, "dx": 14.4, "baseline": "middle"},
       "encoding": {"x": {"field": "a", "type": "nominal", "title": null}, "y": {"datum": -1.2, "type": "quantitative"}, "text": {"field": "lab"}}}
    ]
  }
  ],
  "spacing": 10,
  "bounds": "flush",
  "resolve": {"scale": {"fill": "independent", "shape": "independent", "xOffset": "independent", "opacity": "independent", "color": "independent"}, "legend": {"fill": "independent", "shape": "independent"}}
 }
]
}
